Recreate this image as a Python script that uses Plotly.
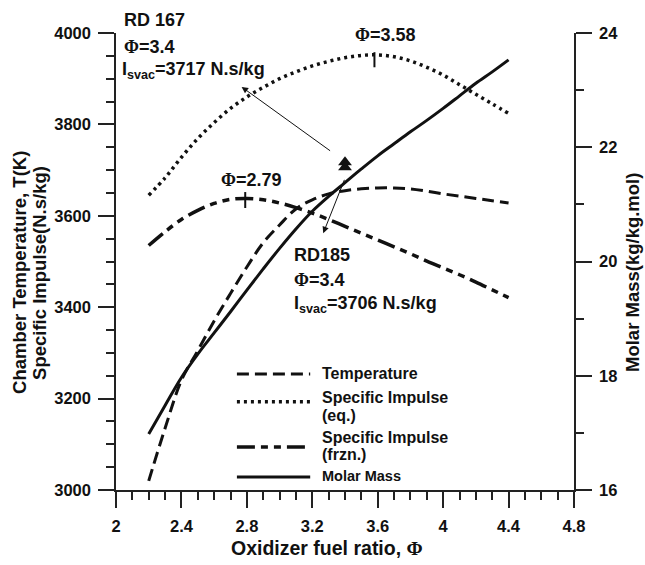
import plotly.graph_objects as go

# ---------------- data ----------------
phi = [2.2, 2.3, 2.4, 2.5, 2.6, 2.7, 2.8, 2.9, 3.0, 3.1, 3.2, 3.3,
       3.4, 3.5, 3.6, 3.7, 3.8, 3.9, 4.0, 4.1, 4.2, 4.3, 4.4]
temperature = [3020, 3135, 3240, 3305, 3370, 3430, 3488, 3541, 3580, 3615, 3635, 3648,
               3655, 3659, 3661, 3661, 3659, 3654, 3648, 3643, 3638, 3633, 3628]
isp_eq = [3645, 3683, 3728, 3769, 3804, 3835, 3860, 3881, 3900, 3915, 3928, 3938,
          3946, 3951, 3952, 3948, 3939, 3925, 3908, 3887, 3866, 3845, 3824]
isp_frzn = [3535, 3565, 3592, 3612, 3627, 3636, 3638, 3635, 3628, 3618, 3606, 3592,
            3577, 3562, 3547, 3532, 3517, 3501, 3486, 3471, 3455, 3438, 3421]
molar_mass = [16.98, 17.48, 17.97, 18.38, 18.75, 19.12, 19.50, 19.87, 20.23, 20.57, 20.88, 21.14,
              21.38, 21.62, 21.85, 22.06, 22.27, 22.47, 22.68, 22.90, 23.12, 23.32, 23.53]

engine_phi = [3.4, 3.4]          # RD 167, RD185
engine_isp = [3717, 3706]

x_tickvals = [2, 2.4, 2.8, 3.2, 3.6, 4, 4.4, 4.8]
x_ticktext = ["2", "2.4", "2.8", "3.2", "3.6", "4", "4.4", "4.8"]
y_tickvals = [3000, 3200, 3400, 3600, 3800, 4000]
y2_tickvals = [16, 18, 20, 22, 24]

# ---------------- styles ----------------
FONT = "Liberation Sans, Arial, sans-serif"
PHI = "<span style='font-family:Liberation Serif, Times New Roman, serif'>Φ</span>"
BLACK = "#111111"
DASH_T = "12px,6px"
DASH_EQ = "3px,4px"
DASH_FR = "18px,6px,7px,6px,7px,6px"

fig = go.Figure()

fig.add_trace(go.Scatter(x=phi, y=temperature, mode="lines", name="Temperature",
                         line=dict(color=BLACK, width=3, dash=DASH_T, shape="spline"),
                         showlegend=False))
fig.add_trace(go.Scatter(x=phi, y=isp_eq, mode="lines", name="Specific Impulse (eq.)",
                         line=dict(color=BLACK, width=3.5, dash=DASH_EQ, shape="spline"),
                         showlegend=False))
fig.add_trace(go.Scatter(x=phi, y=isp_frzn, mode="lines", name="Specific Impulse (frzn.)",
                         line=dict(color=BLACK, width=3.5, dash=DASH_FR, shape="spline"),
                         showlegend=False))
fig.add_trace(go.Scatter(x=phi, y=molar_mass, mode="lines", name="Molar Mass", yaxis="y2",
                         line=dict(color=BLACK, width=3, shape="spline"),
                         showlegend=False))
fig.add_trace(go.Scatter(x=engine_phi, y=engine_isp, mode="markers", showlegend=False,
                         marker=dict(symbol="triangle-up", size=12, color=BLACK)))

axis_common = dict(
    showline=True, linecolor="#222222", linewidth=1.5,
    ticks="outside", ticklen=16, tickwidth=1.5, tickcolor="#222222",
    showgrid=False, zeroline=False,
    tickfont=dict(family=FONT, size=16.5, color=BLACK, weight="bold"),
    ticklabelstandoff=4,
)

fig.update_layout(
    width=645, height=565,
    margin=dict(l=116, r=71, t=33, b=75),
    paper_bgcolor="white", plot_bgcolor="white",
    xaxis=dict(range=[2, 4.8], tickvals=x_tickvals, ticktext=x_ticktext,
               minor=dict(dtick=0.1, tick0=2, ticks="outside", ticklen=8, tickwidth=1.5,
                          tickcolor="#222222"),
               **axis_common),
    yaxis=dict(range=[3000, 4000], tickvals=y_tickvals,
               minor=dict(dtick=50, tick0=3000, ticks="outside", ticklen=8, tickwidth=1.5,
                          tickcolor="#222222"),
               **axis_common),
    yaxis2=dict(range=[16, 24], tickvals=y2_tickvals, overlaying="y", side="right",
                minor=dict(dtick=1, tick0=16, ticks="outside", ticklen=8, tickwidth=1.5,
                           tickcolor="#222222"),
                **axis_common),
)

def txt(x, y, text, size=18, xanchor="left", xref="x", yref="y", angle=0, yanchor="middle"):
    fig.add_annotation(x=x, y=y, xref=xref, yref=yref, text=text, showarrow=False,
                       xanchor=xanchor, yanchor=yanchor, textangle=angle,
                       font=dict(family=FONT, size=size, color=BLACK, weight="bold"))

# axis titles
txt(0.4607, -0.127, "Oxidizer fuel ratio, " + PHI, size=19.5, xanchor="center",
    xref="paper", yref="paper")
txt(-0.2096, 0.475, "Chamber Temperature, T(K)", size=18.5, xanchor="center",
    xref="paper", yref="paper", angle=-90)
txt(-0.166, 0.475, "Specific Impulse(N.s/kg)", size=18.5, xanchor="center",
    xref="paper", yref="paper", angle=-90)
txt(1.129, 0.475, "Molar Mass(kg/kg.mol)", size=18.5, xanchor="center",
    xref="paper", yref="paper", angle=-90)

# engine annotations
txt(0.0131, 1.0285, "RD 167", xref="paper", yref="paper")
txt(2.037, 3969, PHI + "=3.4")
txt(2.024, 3919, "I<sub>svac</sub>=3717 N.s/kg")
txt(3.076, 3514, "RD185")
txt(3.076, 3459, PHI + "=3.4")
txt(3.076, 3405, "I<sub>svac</sub>=3706 N.s/kg")

# peaks
txt(2.825, 3678, PHI + "=2.79", xanchor="center")
txt(3.644, 3996, PHI + "=3.58", xanchor="center")
fig.add_shape(type="line", xref="x", yref="y", x0=2.79, x1=2.79, y0=3617, y1=3652,
              line=dict(color=BLACK, width=2))
fig.add_shape(type="line", xref="x", yref="y", x0=3.58, x1=3.58, y0=3925, y1=3958,
              line=dict(color=BLACK, width=2))

# arrows
for head, tail in [((2.768, 3882), (3.318, 3740)), ((3.267, 3562), (3.40, 3682))]:
    fig.add_annotation(x=head[0], y=head[1], ax=tail[0], ay=tail[1], xref="x", yref="y",
                       axref="x", ayref="y", text="", showarrow=True, arrowhead=2,
                       arrowsize=1.3, arrowwidth=1, arrowcolor=BLACK)

# hand-drawn legend
leg_x0, leg_x1, leg_tx = 0.264, 0.424, 0.445
legend_rows = [
    (0.254, DASH_T, 3, [("Temperature", 0.254)]),
    (0.193, DASH_EQ, 3.5, [("Specific Impulse", 0.2035), ("(eq.)", 0.164)]),
    (0.094, DASH_FR, 3.5, [("Specific Impulse", 0.114), ("(frzn.)", 0.0766)]),
    (0.0284, "solid", 3, [("Molar Mass", 0.0306)]),
]
for ly, dash, w, labels in legend_rows:
    fig.add_shape(type="line", xref="paper", yref="paper", x0=leg_x0, x1=leg_x1, y0=ly, y1=ly,
                  line=dict(color=BLACK, width=w, dash=dash))
    for label, ty in labels:
        txt(leg_tx, ty, label, size=14.5 if label == "Molar Mass" else 16,
            xref="paper", yref="paper")

fig.write_html("out.html")
